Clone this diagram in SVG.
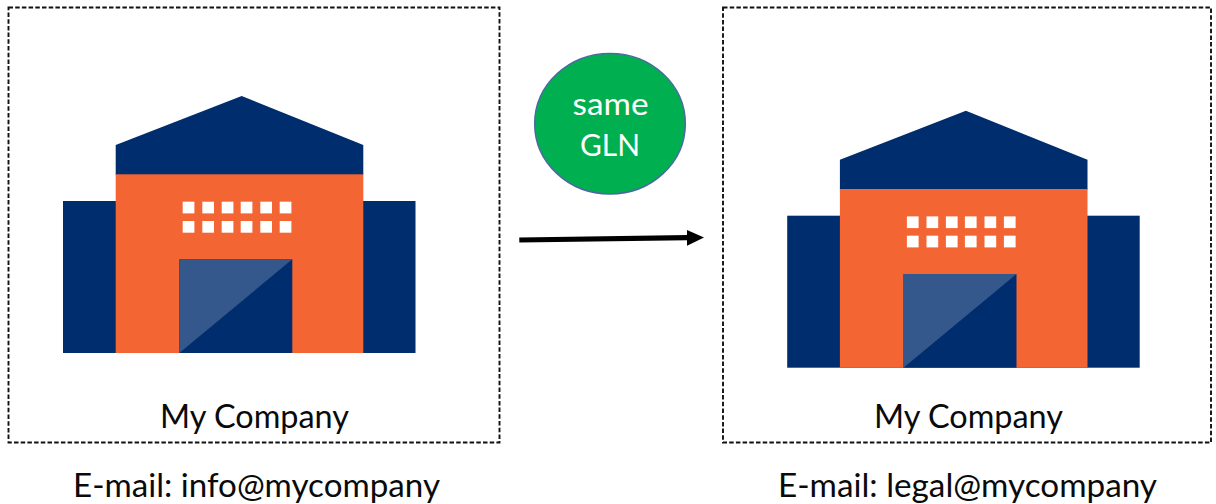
<svg xmlns="http://www.w3.org/2000/svg" width="1216" height="504" viewBox="0 0 1216 504">
<style>
.box{fill:#fff;stroke:#111;stroke-width:1.9;stroke-dasharray:4.5 2.2}
.navy{fill:#002d6d}
.orange{fill:#f46534}
.light{fill:#34588b}
.win{fill:#fff}
.t{font-family:Lato,"Liberation Sans",sans-serif;fill:#0a0a0a}
</style>
<defs>
<g id="building">
<rect class="navy" x="63" y="201" width="352.5" height="152"/>
<path class="navy" d="M115.7 145L241.7 96L363.3 145V175H115.7Z"/>
<rect class="orange" x="115.7" y="174.3" width="247.6" height="178.7"/>
<rect class="navy" x="179.3" y="259.3" width="113" height="93.7"/>
<path class="light" d="M179.3 259.3H292.3L179.3 353Z"/>
<g class="win">
<rect x="182.7" y="201.7" width="11.7" height="11.7"/><rect x="202.3" y="201.7" width="11.7" height="11.7"/><rect x="221.7" y="201.7" width="11.7" height="11.7"/><rect x="240.7" y="201.7" width="11.7" height="11.7"/><rect x="260.3" y="201.7" width="11.7" height="11.7"/><rect x="279.7" y="201.7" width="11.7" height="11.7"/>
<rect x="182.7" y="221" width="11.7" height="11.7"/><rect x="202.3" y="221" width="11.7" height="11.7"/><rect x="221.7" y="221" width="11.7" height="11.7"/><rect x="240.7" y="221" width="11.7" height="11.7"/><rect x="260.3" y="221" width="11.7" height="11.7"/><rect x="279.7" y="221" width="11.7" height="11.7"/>
</g>
</g>
</defs>
<rect width="1216" height="504" fill="#fff"/>
<g id="company-left">
<rect class="box" x="8.5" y="7.5" width="491" height="435"/>
<use href="#building"/>
<text class="t" x="160" y="427.5" font-size="32" textLength="189" lengthAdjust="spacingAndGlyphs">My Company</text>
</g>
<g id="company-right">
<rect class="box" x="723" y="7.5" width="488" height="435"/>
<use href="#building" x="724.2" y="14.7"/>
<text class="t" x="874" y="427.5" font-size="32" textLength="189" lengthAdjust="spacingAndGlyphs">My Company</text>
</g>
<g id="email-left"><text class="t" x="73" y="496.5" font-size="32" textLength="367" lengthAdjust="spacingAndGlyphs">E-mail: info@mycompany</text></g>
<g id="email-right"><text class="t" x="778" y="496.5" font-size="32" textLength="379" lengthAdjust="spacingAndGlyphs">E-mail: legal@mycompany</text></g>
<g id="same-gln">
<ellipse cx="610" cy="123.7" rx="75.3" ry="70.3" fill="#00b050" stroke="#4a6a9f" stroke-width="1.5"/>
<text x="610.5" y="114.5" font-size="30" text-anchor="middle" font-family="Lato,'Liberation Sans',sans-serif" fill="#fff" textLength="76" lengthAdjust="spacingAndGlyphs">same</text>
<text x="610" y="156" font-size="30" text-anchor="middle" font-family="Lato,'Liberation Sans',sans-serif" fill="#fff" textLength="60" lengthAdjust="spacingAndGlyphs">GLN</text>
</g>
<g id="connectors">
<path d="M519.3 240L688 237.7" fill="none" stroke="#000" stroke-width="5.2"/>
<path d="M687 230L704 237.4L687 245.7Z" fill="#000"/>
</g>
</svg>
